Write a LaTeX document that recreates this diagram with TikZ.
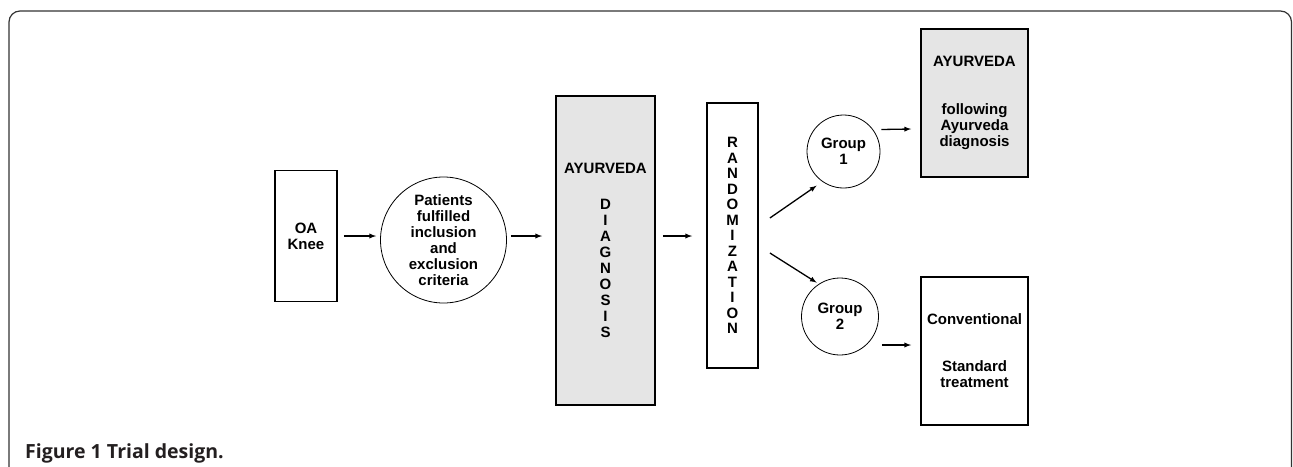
\documentclass[tikz,border=0pt]{standalone}
\usepackage{fontspec}
\setmainfont{Liberation Sans}
\newfontfamily\capfont{Open Sans}
\usetikzlibrary{calc}
\definecolor{boxgray}{RGB}{229,229,229}
\definecolor{capgray}{RGB}{35,31,32}

\begin{document}
\begin{tikzpicture}[x=1pt, y=-1pt,
  every node/.style={font=\fontsize{15}{16}\selectfont\bfseries, align=center, inner sep=0pt},
  blk/.style={draw=black, line width=1.8pt, rectangle},
  shade/.style={blk, fill=boxgray},
  ring/.style={draw=black, line width=0.8pt, circle},
  arr/.style={-latex, line width=1.3pt},
  frame/.style={draw=black!80, line width=1.2pt, rounded corners=11pt}]

  \useasboundingbox (0,0) rectangle (1293,466);

  % outer frame and caption
  \draw[frame] (9,470) -- (9,11) -- (1291.5,11) -- (1291.5,470);
  \node[anchor=base west, text=capgray, font=\capfont\fontsize{19.5}{22}\selectfont\bfseries]
    (cap) at (25,458.5) {Figure 1 Trial design.};

  % left part: knee, patients, diagnosis
  \node[blk, minimum width=62pt, minimum height=131pt] (knee) at (306,236) {OA\\Knee};
  \node[ring, minimum size=126pt] (pat) at (443.5,240)
    {Patients\\fulfilled\\inclusion\\and\\exclusion\\criteria};
  \node[shade, minimum width=99pt, minimum height=309pt] (diag) at (605.5,250.5)
    {AYURVEDA\\[20pt]D\\I\\A\\G\\N\\O\\S\\I\\S};

  % randomization column
  \node[blk, minimum width=51pt, minimum height=265pt,
    font=\fontsize{15}{15.5}\selectfont\bfseries] (rand) at (732.5,235.5)
    {R\\A\\N\\D\\O\\M\\I\\Z\\A\\T\\I\\O\\N};

  % two groups
  \node[ring, minimum size=73pt] (grpA) at (843.5,151.5) {Group\\1};
  \node[ring, minimum size=77pt] (grpB) at (840,316.5) {Group\\2};

  % treatment boxes
  \node[shade, minimum width=107pt, minimum height=148pt] (ayur) at (974.5,103)
    {AYURVEDA\\[32pt]following\\Ayurveda\\diagnosis};
  \node[blk, minimum width=107pt, minimum height=148pt] (conv) at (974.5,351)
    {Conventional\\[31pt]Standard\\treatment};

  % arrows
  \draw[arr, shorten <=6pt, shorten >=4pt] (knee.east) -- (knee.east -| pat.west);
  \draw[arr, shorten <=4pt, shorten >=13pt] (pat.east |- knee) -- (knee -| diag.west);
  \draw[arr, shorten <=7pt, shorten >=14pt] (diag.east |- knee) -- (knee -| rand.west);
  \draw[arr, shorten >=7pt] ($(rand.east)+(11,-17.5)$) -- (grpA.235);
  \draw[arr] ($(rand.east)+(11,17.5)$) -- ($(grpB.125)+(-1,-2)$);
  \draw[arr] ($(grpA.east)+(1,-22)$) -- ($(ayur.west)+(-9,26)$);
  \draw[arr] ($(grpB.east)+(3,28.5)$) -- ($(conv.west)+(-9,-6)$);
\end{tikzpicture}
\end{document}
